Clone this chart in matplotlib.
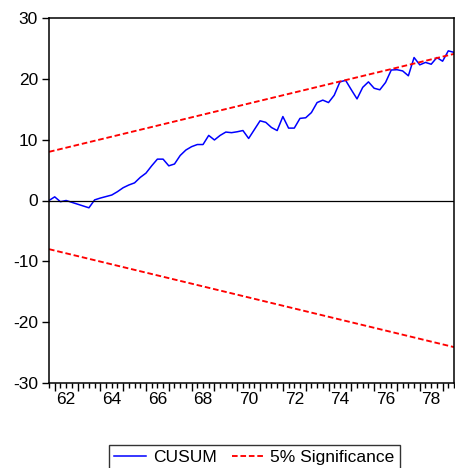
import matplotlib
matplotlib.use("Agg")
import matplotlib.pyplot as plt
import matplotlib.transforms as mtrans
import numpy as np
import pandas as pd

plt.rcParams['font.family'] = ['Liberation Sans', 'DejaVu Sans']

# quarterly sample 1961Q4 - 1979Q3
quarters = pd.period_range('1961Q4', periods=72, freq='Q')
cusum = [0.0, 0.6, -0.2, 0.0, -0.3, -0.6, -0.9, -1.2, 0.1, 0.4,
         0.65, 0.9, 1.45, 2.1, 2.55, 2.9, 3.8, 4.5, 5.7, 6.8,
         6.8, 5.7, 6.0, 7.4, 8.3, 8.85, 9.2, 9.2, 10.7, 9.95,
         10.7, 11.25, 11.15, 11.3, 11.5, 10.2, 11.65, 13.1, 12.85, 12.0,
         11.5, 13.8, 11.9, 11.9, 13.5, 13.6, 14.45, 16.1, 16.5, 16.1,
         17.3, 19.5, 19.75, 18.2, 16.7, 18.6, 19.5, 18.45, 18.2, 19.4,
         21.45, 21.5, 21.3, 20.5, 23.5, 22.3, 22.7, 22.4, 23.5, 22.9,
         24.6, 24.35]
# 5% bounds at first and last observation
upper_ends = [8.0, 24.1]
lower_ends = [-8.0, -24.1]

yticks = [-30, -20, -10, 0, 10, 20, 30]
year_labels = ['62', '64', '66', '68', '70', '72', '74', '76', '78']
label_years = [1962, 1964, 1966, 1968, 1970, 1972, 1974, 1976, 1978]

x = np.array([p.year + (p.quarter - 1) / 4 for p in quarters])

fig = plt.figure(figsize=(4.55, 4.68), dpi=100)
ax = fig.add_axes([49 / 455, 1 - 383 / 468, 405 / 455, 365 / 468])

ax.plot(x, cusum, color='#0000ff', lw=1.1, label='CUSUM')
ends = [x[0], x[-1]]
ax.plot(ends, upper_ends, color='#ff0000', lw=1.35, ls=(0, (3, 1.5)),
        label='5% Significance')
ax.plot(ends, lower_ends, color='#ff0000', lw=1.35, ls=(0, (3, 1.5)))
ax.axhline(0, color='black', lw=0.9)

ax.set_xlim(x[0], x[-1])
ax.set_ylim(-30, 30)
ax.set_yticks(yticks)
ax.set_yticklabels([str(v) for v in yticks])
ax.tick_params(axis='y', direction='out', length=5, width=1, labelsize=12.5, pad=3)

ax.set_xticks(np.arange(1962, 1980))
ax.set_xticklabels([])
ax.set_xticks(x, minor=True)
ax.tick_params(axis='x', which='major', direction='out', length=6, width=1)
ax.tick_params(axis='x', which='minor', direction='out', length=3.5, width=1)

trans = mtrans.blended_transform_factory(ax.transData, ax.transAxes)
for yr, lab in zip(label_years, year_labels):
    ax.text(yr + 0.5, -0.045, lab, transform=trans, ha='center', va='center',
            fontsize=12.5)

for s in ax.spines.values():
    s.set_linewidth(1.1)

leg = ax.legend(loc='upper center', bbox_to_anchor=(254.5 / 455, 1 - 436 / 468),
                bbox_transform=fig.transFigure, ncol=2, fontsize=12.5,
                frameon=True, fancybox=False, edgecolor='black',
                handlelength=1.8, handletextpad=0.4, columnspacing=0.9,
                borderpad=0.3)
leg.get_frame().set_linewidth(1.0)

fig.savefig('out.png', dpi=100)
